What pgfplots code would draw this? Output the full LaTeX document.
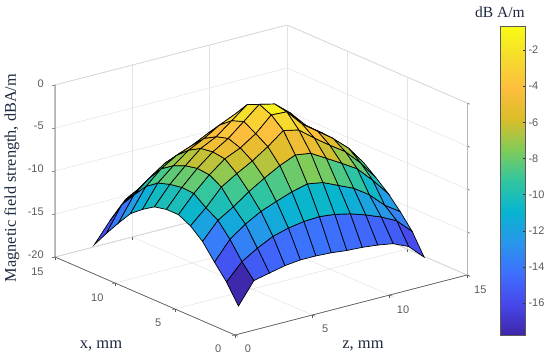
\documentclass[border=0pt]{standalone}
\usepackage{fontspec}
\setmainfont{Liberation Serif}
\newfontfamily\arialf{Liberation Sans}
\usepackage{pgfplots}
\pgfplotsset{compat=1.18}
\definecolor{tickc}{HTML}{5A5A5A}
\definecolor{labc}{HTML}{1E2A40}
\definecolor{gridc}{HTML}{E2E2E2}
\pgfplotsset{colormap={parula}{rgb=(.2422,.1504,.6603) rgb=(.2803,.2782,.9221) rgb=(.2440,.4358,.9988) rgb=(.1540,.5902,.9218) rgb=(.0297,.7082,.8163) rgb=(.1938,.7758,.6251) rgb=(.5044,.7993,.3480) rgb=(.8634,.7406,.1596) rgb255=(253,190,61) rgb255=(246,220,45) rgb=(.9769,.9839,.0805)}}
\begin{document}
\begin{tikzpicture}[x=1pt,y=1pt]
\path[use as bounding box] (0,0) rectangle (550,360);
\begin{axis}[
 anchor=origin, at={(235pt,197pt)},
 y={(-12pt,5.2pt)}, x={(15.47pt,4pt)}, z={(0pt,8.6pt)},
 xmin=0,xmax=15,ymin=0,ymax=15,zmin=-20,zmax=0,
 xtick={0,5,10,15}, ytick={0,5,10,15}, ztick={-20,-15,-10,-5,0},
 xtick pos=lower, ytick pos=lower, ztick pos=left,
 grid=major, major grid style={gridc,line width=.5pt},
 3d box=background,
 axis line style={gridc!80!black,line width=.5pt},
 tick style={tickc,line width=.5pt},
 tick align=outside,
 major tick length=3pt,
 ticklabel style={font=\arialf\fontsize{11}{12}\selectfont,text=tickc},
 xticklabel style={xshift=5pt,yshift=-5pt},
 yticklabel style={xshift=-8pt,yshift=-5pt},
 zticklabel style={xshift=-5pt},
 /pgf/number format/assume math mode=true,
 colormap name=parula,
 point meta min=-17.77, point meta max=-0.67,
 clip=false,
]
\draw[tickc,line width=.6pt] (axis cs:0,0,-20)--(axis cs:15,0,-20) (axis cs:0,0,-20)--(axis cs:0,15,-20)--(axis cs:0,15,0);
\addplot3[surf, z buffer=sort, shader=flat corner, draw=black, line width=.7pt, mesh/rows=13, point meta=\thisrow{v}] table[x=b,y=a,z=v,row sep=\\] {
a b v\\
1 1 -17.7\\ 1 2 -15.2\\ 1 3 -14.8\\ 1 4 -14.4\\ 1 5 -14.2\\ 1 6 -14.2\\ 1 7 -14.3\\ 1 8 -14.5\\ 1 9 -14.6\\ 1 10 -14.8\\ 1 11 -15.1\\ 1 12 -15.9\\ 1 13 -17.6\\
2 1 -15.5\\ 2 2 -13.6\\ 2 3 -12.5\\ 2 4 -11.6\\ 2 5 -11.1\\ 2 6 -10.8\\ 2 7 -10.7\\ 2 8 -10.9\\ 2 9 -11.3\\ 2 10 -11.9\\ 2 11 -12.6\\ 2 12 -13.5\\ 2 13 -15.2\\
3 1 -13.8\\ 3 2 -11.6\\ 3 3 -10.3\\ 3 4 -9.3\\ 3 5 -8.6\\ 3 6 -7.95\\ 3 7 -7.5\\ 3 8 -7.8\\ 3 9 -8.6\\ 3 10 -9.4\\ 3 11 -10.6\\ 3 12 -12.3\\ 3 13 -13.5\\
4 1 -12.0\\ 4 2 -10.0\\ 4 3 -8.9\\ 4 4 -7.6\\ 4 5 -6.5\\ 4 6 -5.5\\ 4 7 -4.74\\ 4 8 -5.0\\ 4 9 -6.05\\ 4 10 -7.1\\ 4 11 -8.2\\ 4 12 -10.0\\ 4 13 -12.0\\
5 1 -10.8\\ 5 2 -9.15\\ 5 3 -7.2\\ 5 4 -6.1\\ 5 5 -5.1\\ 5 6 -3.9\\ 5 7 -2.5\\ 5 8 -2.9\\ 5 9 -4.3\\ 5 10 -5.6\\ 5 11 -6.8\\ 5 12 -8.6\\ 5 13 -10.8\\
6 1 -10.1\\ 6 2 -8.1\\ 6 3 -6.4\\ 6 4 -5.0\\ 6 5 -4.2\\ 6 6 -3.0\\ 6 7 -1.3\\ 6 8 -1.4\\ 6 9 -3.3\\ 6 10 -4.6\\ 6 11 -5.9\\ 6 12 -7.5\\ 6 13 -9.7\\
7 1 -10.1\\ 7 2 -8.0\\ 7 3 -6.25\\ 7 4 -4.8\\ 7 5 -3.7\\ 7 6 -2.2\\ 7 7 -0.67\\ 7 8 -1.1\\ 7 9 -2.6\\ 7 10 -4.5\\ 7 11 -5.8\\ 7 12 -7.3\\ 7 13 -9.0\\
8 1 -10.4\\ 8 2 -8.25\\ 8 3 -6.55\\ 8 4 -5.0\\ 8 5 -4.1\\ 8 6 -2.7\\ 8 7 -1.3\\ 8 8 -2.0\\ 8 9 -3.2\\ 8 10 -4.8\\ 8 11 -6.1\\ 8 12 -7.6\\ 8 13 -9.3\\
9 1 -11.3\\ 9 2 -8.7\\ 9 3 -7.15\\ 9 4 -5.8\\ 9 5 -4.9\\ 9 6 -3.8\\ 9 7 -3.0\\ 9 8 -3.2\\ 9 9 -4.4\\ 9 10 -5.6\\ 9 11 -6.8\\ 9 12 -8.2\\ 9 13 -9.8\\
10 1 -12.4\\ 10 2 -9.7\\ 10 3 -8.1\\ 10 4 -7.0\\ 10 5 -6.3\\ 10 6 -5.4\\ 10 7 -5.0\\ 10 8 -5.2\\ 10 9 -6.0\\ 10 10 -7.0\\ 10 11 -8.0\\ 10 12 -9.2\\ 10 13 -10.8\\
11 1 -14.1\\ 11 2 -11.3\\ 11 3 -9.8\\ 11 4 -8.55\\ 11 5 -7.8\\ 11 6 -7.8\\ 11 7 -7.8\\ 11 8 -8.0\\ 11 9 -8.6\\ 11 10 -9.3\\ 11 11 -10.2\\ 11 12 -11.4\\ 11 13 -12.8\\
12 1 -15.9\\ 12 2 -13.0\\ 12 3 -11.8\\ 12 4 -10.5\\ 12 5 -9.8\\ 12 6 -9.6\\ 12 7 -9.6\\ 12 8 -9.8\\ 12 9 -10.3\\ 12 10 -11.0\\ 12 11 -11.9\\ 12 12 -13.0\\ 12 13 -14.5\\
13 1 -17.8\\ 13 2 -15.5\\ 13 3 -13.5\\ 13 4 -12.5\\ 13 5 -11.8\\ 13 6 -11.4\\ 13 7 -11.4\\ 13 8 -11.6\\ 13 9 -12.2\\ 13 10 -13.0\\ 13 11 -14.0\\ 13 12 -15.4\\ 13 13 -17.67\\
};
\end{axis}
\begin{axis}[
 anchor=south west, at={(500.7pt,25pt)}, scale only axis, width=24.3pt, height=309pt,
 xmin=0,xmax=1, ymin=-17.77,ymax=-0.67, view={0}{90},
 xtick=\empty, ytick={-16,-14,...,-2}, axis y line*=right,
 axis line style={tickc,line width=.6pt},
 tick align=inside, major tick length=2pt, tick style={tickc!60!black},
 ticklabel style={font=\arialf\fontsize{11}{12}\selectfont,text=tickc},
 /pgf/number format/assume math mode=true,
 colormap name=parula, point meta min=-17.77, point meta max=-0.67,
 axis on top,
]
\addplot3[surf, shader=interp, mesh/rows=2, mesh/cols=2, point meta=y] coordinates {(0,-17.77,0) (1,-17.77,0) (0,-0.67,0) (1,-0.67,0)};
\end{axis}
\draw[tickc,line width=.6pt] (500.7,25) rectangle (525,334);
\node[font=\fontsize{15.5}{16}\selectfont,text=labc] at (500,348) {dB A/m};
\node[font=\fontsize{16.3}{16}\selectfont,text=labc,rotate=90] at (12,182) {Magnetic field strength, dBA/m};
\node[font=\fontsize{16.5}{16}\selectfont,text=labc] at (101,14) {x, mm};
\node[font=\fontsize{16.5}{16}\selectfont,text=labc] at (363,14) {z, mm};
\end{tikzpicture}
\end{document}
